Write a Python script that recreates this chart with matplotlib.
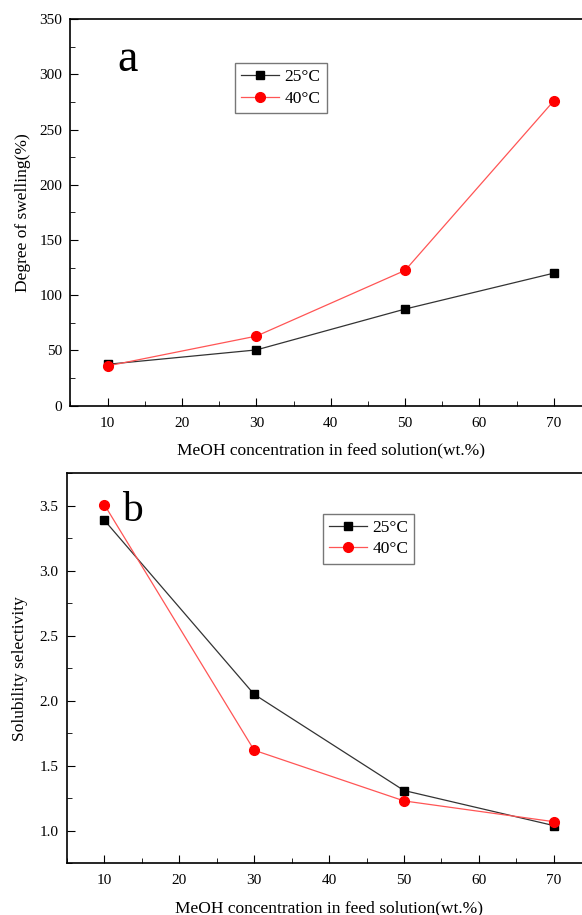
import matplotlib
matplotlib.use("Agg")
import matplotlib.pyplot as plt
from matplotlib.ticker import MultipleLocator

plt.rcParams["font.family"] = ["Liberation Serif", "DejaVu Serif"]

meoh = [10, 30, 50, 70]
swell_25 = [37.5, 50.5, 87.5, 120]
swell_40 = [36, 63, 122.5, 276]
sel_25 = [3.39, 2.05, 1.31, 1.04]
sel_40 = [3.51, 1.62, 1.23, 1.07]
series_labels = ["25°C", "40°C"]
xlabel = "MeOH concentration in feed solution(wt.%)"


def style_axis(ax):
    ax.tick_params(direction="in", which="both", labelsize=11, top=False, right=False)
    ax.tick_params(which="major", length=6)
    ax.tick_params(which="minor", length=3.5)
    ax.tick_params(axis="x", which="both", pad=8)
    ax.tick_params(axis="y", which="both", pad=6)
    for sp in ax.spines.values():
        sp.set_linewidth(1.2)
    ax.xaxis.set_major_locator(MultipleLocator(10))
    ax.xaxis.set_minor_locator(MultipleLocator(5))
    ax.set_xlim(5, 75)
    ax.set_xlabel(xlabel, fontsize=12.5, labelpad=9)


def plot_pair(ax, y25, y40):
    ax.plot(meoh, y25, color="#333333", lw=0.9, marker="s", ms=6,
            mfc="black", mec="black", label=series_labels[0])
    ax.plot(meoh, y40, color="#ff5555", lw=0.9, marker="o", ms=7,
            mfc="red", mec="red", label=series_labels[1])


fig = plt.figure(figsize=(5.82, 9.15), dpi=100)

ax1 = fig.add_axes([0.1211, 0.5566, 0.8944, 0.4226])
plot_pair(ax1, swell_25, swell_40)
style_axis(ax1)
ax1.set_ylim(0, 350)
ax1.yaxis.set_major_locator(MultipleLocator(50))
ax1.yaxis.set_minor_locator(MultipleLocator(25))
ax1.set_ylabel("Degree of swelling(%)", fontsize=12.5, labelpad=6)
ax1.text(0.11, 0.895, "a", transform=ax1.transAxes, fontsize=33, ha="center", va="center")
leg1 = ax1.legend(loc="upper left", bbox_to_anchor=(0.316, 0.886), borderaxespad=0,
                  fancybox=False, edgecolor="#777777", framealpha=1, fontsize=12.5,
                  handlelength=2.2, handletextpad=0.3, borderpad=0.35, labelspacing=0.3)
leg1.get_frame().set_linewidth(1.0)

ax2 = fig.add_axes([0.1148, 0.0565, 0.9012, 0.4262])
plot_pair(ax2, sel_25, sel_40)
style_axis(ax2)
ax2.set_ylim(0.75, 3.75)
ax2.yaxis.set_major_locator(MultipleLocator(0.5))
ax2.yaxis.set_minor_locator(MultipleLocator(0.25))
ax2.set_ylabel("Solubility selectivity", fontsize=12.5, labelpad=8)
ax2.text(0.126, 0.905, "b", transform=ax2.transAxes, fontsize=30, ha="center", va="center")
leg2 = ax2.legend(loc="upper left", bbox_to_anchor=(0.488, 0.896), borderaxespad=0,
                  fancybox=False, edgecolor="#777777", framealpha=1, fontsize=12.5,
                  handlelength=2.2, handletextpad=0.3, borderpad=0.35, labelspacing=0.3)
leg2.get_frame().set_linewidth(1.0)

fig.savefig("out.png", dpi=100)
